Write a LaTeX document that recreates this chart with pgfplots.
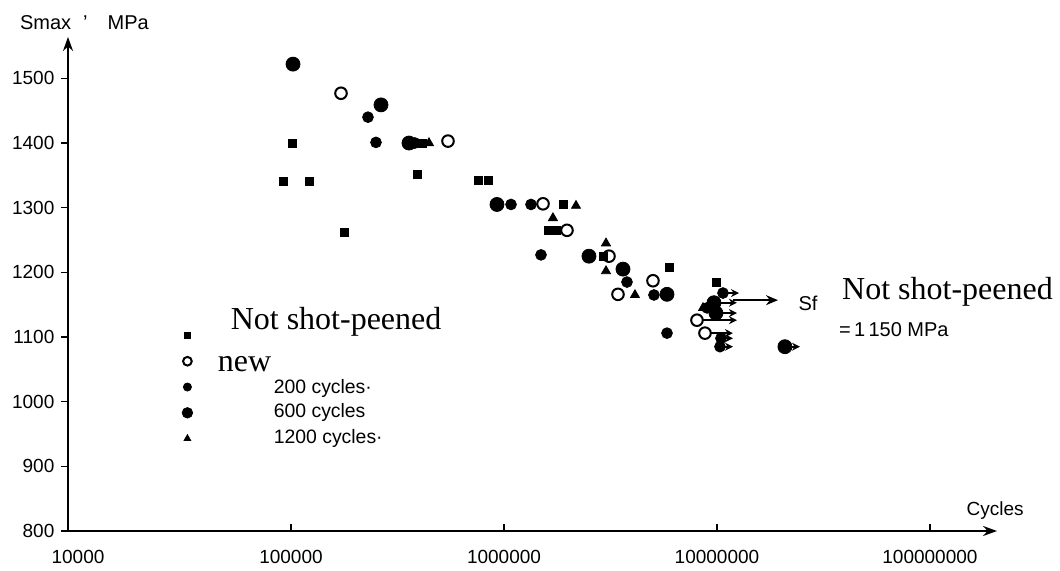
\documentclass[border=0pt]{standalone}
\usepackage{pgfplots}
\pgfplotsset{compat=1.18}
\usetikzlibrary{arrows.meta}
\usepackage{fontspec}
\setmainfont{Liberation Sans}
\newfontfamily\serifbig{Liberation Serif}
\newcommand{\ent}[2]{\raisebox{#1}{\smash{#2}}\rule[-6.25pt]{0pt}{12.5pt}}
\begin{document}
\begin{tikzpicture}
\begin{axis}[
  scale only axis, width=464.5pt, height=247pt,
  xmode=log, log basis x=10,
  xmin=8974, xmax=2.065e8, ymin=800, ymax=1564,
  axis lines=left,
  axis line style={line width=0.9pt, -{Stealth[length=7pt,width=5pt]}},
  tick align=inside,
  major tick length=3.5pt,
  tick style={line width=0.8pt, black},
  ytick style={xshift=-3.5pt},
  minor tick num=0,
  xtick={1e5,1e6,1e7,1e8},
  xticklabels={100000,1000000,10000000,100000000},
  extra x ticks={1e4},
  extra x tick labels={10000},
  extra x tick style={major tick length=0pt},
  ytick={800,900,1000,1100,1200,1300,1400,1500},
  /pgf/number format/assume math mode=true,
  /pgf/number format/1000 sep={},
  ticklabel style={font=\fontsize{9.5}{11}\selectfont},
  xticklabel style={yshift=-6.3pt},
  yticklabel style={xshift=-3.3pt},
  clip=false,
  legend image code/.code={\path (-8.5pt,-6.25pt) (8.5pt,6.25pt); \draw[#1, every mark/.append style={scale=0.75}] plot coordinates {(0pt,0pt)};},
  legend cell align=left,
  legend style={draw=none, fill=none, inner sep=0pt, outer sep=0pt,
    at={(rel axis cs:0.1098,0.422)}, anchor=north west,
    row sep=0pt, column sep=6.5pt, nodes={inner sep=0pt}},
]
% runout arrows
\addplot[forget plot, line width=0.9pt, -{Stealth[length=4pt,width=4pt]}] coordinates {(1.067e7,1168) (1.269e7,1168)};
\addplot[forget plot, line width=0.9pt, -{Stealth[length=4pt,width=4pt]}] coordinates {(9.68e6,1153) (1.241e7,1153)};
\addplot[forget plot, line width=0.9pt, -{Stealth[length=4pt,width=4pt]}] coordinates {(9.89e6,1137) (1.241e7,1137)};
\addplot[forget plot, line width=0.9pt, -{Stealth[length=4pt,width=4pt]}] coordinates {(8.6e6,1126) (1.241e7,1126)};
\addplot[forget plot, line width=0.9pt, -{Stealth[length=4pt,width=4pt]}] coordinates {(9.37e6,1106) (1.189e7,1106)};
\addplot[forget plot, line width=0.9pt, -{Stealth[length=4pt,width=4pt]}] coordinates {(1.044e7,1098) (1.189e7,1098)};
\addplot[forget plot, line width=0.9pt, -{Stealth[length=4pt,width=4pt]}] coordinates {(1.033e7,1085) (1.189e7,1085)};
\addplot[forget plot, line width=0.9pt, -{Stealth[length=4pt,width=4pt]}] coordinates {(2.085e7,1085) (2.453e7,1085)};
% Sf arrow
\addplot[forget plot, line width=0.7pt, -{Stealth[length=6pt,width=5pt]}] coordinates {(1.189e7,1157) (1.934e7,1157)};
% Not shot-peened
\addplot[only marks, mark=square*, mark size=2pt, black] coordinates {
(1.011e5,1400) (9.17e4,1340) (1.215e5,1340) (1.774e5,1262) (3.905e5,1352)
(7.55e5,1342) (8.41e5,1342) (1.892e6,1305) (1.609e6,1265) (1.754e6,1265)
(2.916e6,1225) (5.953e6,1207) (9.89e6,1185) (4.121e5,1400)};
\addlegendentry{\ent{5.5pt}{\hspace{6.5pt}\serifbig\fontsize{16}{18}\selectfont Not shot-peened}}
% new
\addplot[only marks, mark=o, mark size=2.9pt, mark options={line width=1pt}, black] coordinates {
(1.717e5,1477) (5.459e5,1403) (1.525e6,1306) (1.976e6,1265) (3.112e6,1225)
(3.430e6,1166) (5.006e6,1187) (8.056e6,1126) (8.785e6,1106)};
\addlegendentry{\ent{-3pt}{\serifbig\fontsize{16}{18}\selectfont new}}
% 200 cycles
\addplot[only marks, mark=*, mark size=2.7pt, black] coordinates {
(2.298e5,1440) (2.506e5,1401) (3.821e5,1400) (1.079e6,1305) (1.339e6,1305)
(1.492e6,1227) (3.780e6,1185) (5.06e6,1165) (5.826e6,1106)
(1.067e7,1168) (8.98e6,1145) (1.044e7,1098) (1.033e7,1085)};
\addlegendentry{\ent{-1pt}{\hspace{28pt}\fontsize{9.7}{11}\selectfont 200 cycles·}}
% 600 cycles
\addplot[only marks, mark=*, mark size=3.5pt, black] coordinates {
(1.022e5,1522) (2.646e5,1459) (3.581e5,1400) (9.27e5,1305) (2.506e6,1225)
(3.62e6,1205) (5.826e6,1166) (9.68e6,1153) (9.89e6,1137) (2.085e7,1085)};
\addlegendentry{\ent{0pt}{\hspace{28pt}\fontsize{9.7}{11}\selectfont 600 cycles}}
% 1200 cycles
\addplot[only marks, mark=triangle*, mark size=2.6pt, black] coordinates {
(4.445e5,1400) (1.698e6,1284) (2.178e6,1303) (3.013e6,1245) (3.013e6,1202)
(4.121e6,1165) (8.6e6,1145)};
\addlegendentry{\ent{0pt}{\hspace{28pt}\fontsize{9.7}{11}\selectfont 1200 cycles·}}
% texts
\node[anchor=west, font=\fontsize{10}{12}\selectfont] at (rel axis cs:-0.0592,1.0283) {Smax\hspace{6pt}'\hspace{10pt}MPa};
\node[font=\fontsize{9.5}{11}\selectfont] at (rel axis cs:0.998,0.0405) {Cycles};
\node[font=\serifbig\fontsize{16}{18}\selectfont] at (rel axis cs:0.9467,0.4838) {Not shot-peened};
\node[font=\fontsize{10}{12}\selectfont] at (rel axis cs:0.7966,0.4615) {Sf};
\node[anchor=west, font=\fontsize{10}{12}\selectfont] at (rel axis cs:0.8224,0.4069) {=\,1\,150 MPa};
\end{axis}
\pgfresetboundingbox
\path[use as bounding box] (-34pt,-20pt) rectangle (496pt,265.5pt);
\end{tikzpicture}
\end{document}
